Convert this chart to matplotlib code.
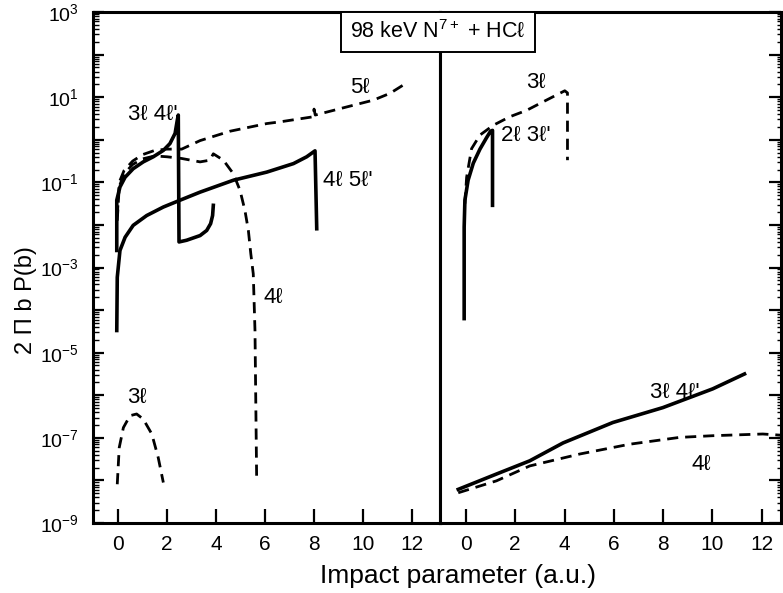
import matplotlib
matplotlib.use('Agg')
import matplotlib.pyplot as plt
import matplotlib.ticker as mticker
from matplotlib.patches import Rectangle
import numpy as np

plt.rcParams['font.family'] = ['Liberation Sans', 'DejaVu Sans']
plt.rcParams['mathtext.fontset'] = 'custom'
plt.rcParams['mathtext.rm'] = 'Liberation Sans'
plt.rcParams['mathtext.it'] = 'Liberation Sans:italic'

# ---- left panel (values are log10 of 2 pi b P(b)) ----
b_3l4l_left = [-0.05, -0.05, 0.08, 0.29, 0.62, 1.03, 1.44, 1.85, 2.12, 2.33, 2.42, 2.46,
               2.49, 2.8, 3.35, 3.62, 3.78, 3.86, 3.89]
lg_3l4l_left = [-2.6, -1.42, -1.11, -0.88, -0.68, -0.52, -0.40, -0.25, -0.09, 0.15, 0.46, 0.58,
                -2.40, -2.36, -2.25, -2.13, -1.97, -1.78, -1.54]

b_4l5l = [-0.05, -0.03, 0.08, 0.29, 0.62, 1.17, 1.85, 2.53, 3.35, 4.71, 6.07, 7.16, 7.70, 8.04, 8.11]
lg_4l5l = [-4.48, -3.23, -2.60, -2.29, -2.01, -1.78, -1.58, -1.42, -1.23, -0.95, -0.76, -0.56,
           -0.40, -0.26, -2.09]

b_5l = [-0.03, 0.05, 0.25, 0.6, 1.0, 1.5, 2.0, 2.6, 3.35, 4.57, 6.07, 6.61, 7.97, 8.0, 8.05,
        9.33, 10.42, 11.10, 11.71]
lg_5l = [-1.8, -1.0, -0.72, -0.5, -0.35, -0.25, -0.22, -0.22, -0.02, 0.2, 0.38, 0.42, 0.54,
         0.72, 0.58, 0.77, 0.93, 1.09, 1.31]

b_4l_left = [-0.03, 0.05, 0.25, 0.6, 1.0, 1.5, 2.0, 2.6, 3.35, 3.75, 3.89, 4.30, 4.71, 4.98,
             5.18, 5.32, 5.42, 5.52, 5.59, 5.66]
lg_4l_left = [-1.9, -1.1, -0.8, -0.58, -0.45, -0.38, -0.40, -0.44, -0.52, -0.48, -0.33, -0.48,
              -0.80, -1.19, -1.66, -2.13, -2.68, -3.15, -4.48, -8.05]

b_3l_left = [-0.03, 0.05, 0.22, 0.49, 0.76, 1.03, 1.38, 1.64, 1.85]
lg_3l_left = [-8.09, -7.23, -6.76, -6.48, -6.44, -6.56, -6.91, -7.46, -8.05]

# ---- right panel ----
b_2l3l = [-0.07, -0.07, -0.04, 0.09, 0.30, 0.57, 0.84, 1.0, 1.08, 1.08]
lg_2l3l = [-4.2, -2.05, -1.42, -0.95, -0.55, -0.22, 0.05, 0.2, 0.22, -1.54]

b_3l_right = [-0.04, 0.03, 0.23, 0.57, 1.11, 1.78, 2.46, 3.13, 3.67, 4.01, 4.12, 4.12]
lg_3l_right = [-1.50, -0.88, -0.21, 0.11, 0.34, 0.54, 0.69, 0.89, 1.05, 1.15, 1.10, -0.48]

b_3l4l_right = [-0.31, 1.24, 2.59, 3.94, 5.96, 7.99, 10.01, 11.30]
lg_3l4l_right = [-8.21, -7.85, -7.54, -7.12, -6.64, -6.29, -5.85, -5.50]

b_4l_right = [-0.31, 1.24, 2.59, 4.62, 6.64, 8.66, 10.01, 12.04, 12.83]
lg_4l_right = [-8.29, -8.01, -7.66, -7.38, -7.15, -6.99, -6.95, -6.91, -6.94]

x_ticks = [0, 2, 4, 6, 8, 10, 12]

W, H = 783, 593
fig = plt.figure(figsize=(W / 100, H / 100), dpi=100)
ax1 = fig.add_axes([93 / W, (H - 523) / H, (440 - 93) / W, (523 - 12) / H])
ax2 = fig.add_axes([440 / W, (H - 523) / H, (781 - 440) / W, (523 - 12) / H], sharey=ax1)

solid = dict(color='black', lw=2.6, solid_joinstyle='round')
dashed = dict(color='black', lw=2.0, linestyle=(0, (4, 2.5)))


def p(v):
    return 10.0 ** np.asarray(v)


ax1.plot(b_3l4l_left, p(lg_3l4l_left), **solid)
ax1.plot(b_4l5l, p(lg_4l5l), **solid)
ax1.plot(b_5l, p(lg_5l), **dashed)
ax1.plot(b_4l_left, p(lg_4l_left), **dashed)
ax1.plot(b_3l_left, p(lg_3l_left), **dashed)

ax2.plot(b_2l3l, p(lg_2l3l), **solid)
ax2.plot(b_3l_right, p(lg_3l_right), **dashed)
ax2.plot(b_3l4l_right, p(lg_3l4l_right), **solid)
ax2.plot(b_4l_right, p(lg_4l_right), **dashed)

fs = 16
ax1.text(1.41, p(0.6), "3ℓ 4ℓ'", fontsize=fs, ha='center', va='center')
ax1.text(9.88, p(1.24), "5ℓ", fontsize=fs, ha='center', va='center')
ax1.text(9.37, p(-0.95), "4ℓ 5ℓ'", fontsize=fs, ha='center', va='center')
ax1.text(6.34, p(-3.70), "4ℓ", fontsize=fs, ha='center', va='center')
ax1.text(0.76, p(-6.05), "3ℓ", fontsize=fs, ha='center', va='center')
ax2.text(2.86, p(1.34), "3ℓ", fontsize=fs, ha='center', va='center')
ax2.text(2.42, p(0.1), "2ℓ 3ℓ'", fontsize=fs, ha='center', va='center')
ax2.text(8.46, p(-5.93), "3ℓ 4ℓ'", fontsize=fs, ha='center', va='center')
ax2.text(9.54, p(-7.62), "4ℓ", fontsize=fs, ha='center', va='center')

ax1.set_yscale('log')
ax1.set_ylim(1e-9, 1e3)
ax1.set_xlim(-1.02, 13.14)
ax2.set_xlim(-1.05, 12.78)


def ylab(v, pos):
    e = int(round(np.log10(v)))
    return r'$10^{%d}$' % e if e % 2 else ''


for ax in (ax1, ax2):
    ax.yaxis.set_major_locator(mticker.LogLocator(base=10, numticks=30))
    ax.yaxis.set_minor_locator(mticker.LogLocator(base=10, subs=np.arange(2, 10), numticks=200))
    ax.yaxis.set_minor_formatter(mticker.NullFormatter())
    ax.set_xticks(x_ticks)
    ax.tick_params(axis='x', direction='in', length=10, width=1.6, labelsize=15, pad=9)
    for s in ax.spines.values():
        s.set_linewidth(2.2)

ax1.yaxis.set_major_formatter(mticker.FuncFormatter(ylab))
ax1.tick_params(axis='y', which='major', direction='in', length=8, width=1.6, labelsize=14, pad=10)
ax1.tick_params(axis='y', which='minor', direction='in', length=4, width=1.0)
ax2.tick_params(axis='y', which='both', left=False, right=True, labelleft=False, direction='in')
ax2.tick_params(axis='y', which='major', length=9, width=1.6)
ax2.tick_params(axis='y', which='minor', length=3, width=1.0)

fig.add_artist(Rectangle((341 / W, 1 - 52 / H), 194 / W, 40 / H, transform=fig.transFigure,
                         facecolor='white', edgecolor='black', lw=1.4, zorder=5))
fig.text(438 / W, 1 - 32 / H, r"98 keV N$^{7+}$ + HCℓ", fontsize=15.5, ha='center', va='center', zorder=6)

fig.text(458 / W, 1 - 576 / H, 'Impact parameter (a.u.)', fontsize=19, ha='center', va='center')
fig.text(26 / W, 1 - 300 / H, '2 Π b P(b)', fontsize=17, ha='center', va='center', rotation=90)

plt.savefig('out.png', dpi=100)
